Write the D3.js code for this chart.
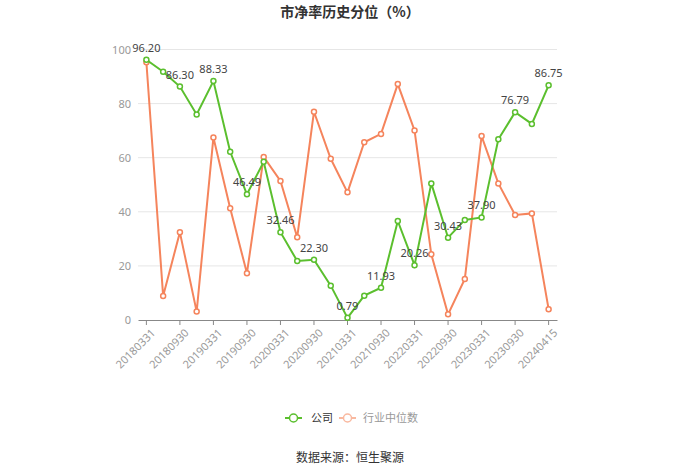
<!DOCTYPE html>
<html><head><meta charset="utf-8">
<script src="https://cdn.jsdelivr.net/npm/d3@7/dist/d3.min.js"></script>
<style>body{margin:0;background:#fff;font-family:"Noto Sans CJK SC","Noto Sans",sans-serif;}</style>
</head><body><svg id="c" width="700" height="474"></svg>
<script>
const categories = ["20180331","20180630","20180930","20181231","20190331","20190630","20190930","20191231","20200331","20200630","20200930","20201231","20210331","20210630","20210930","20211231","20220331","20220630","20220930","20221231","20230331","20230630","20230930","20231231","20240415"];
const companyValues = [96.20,91.8,86.30,76.0,88.33,62.2,46.49,58.5,32.46,21.8,22.30,12.7,0.79,9.0,11.93,36.6,20.26,50.5,30.43,37.0,37.90,66.8,76.79,72.5,86.75];
const industryValues = [95.3,8.9,32.4,3.1,67.5,41.3,17.3,60.3,51.4,30.6,77.0,59.6,47.2,65.7,68.8,87.2,70.1,24.3,2.1,15.2,68.0,50.5,38.8,39.4,4.0];
const yTicks = [0,20,40,60,80,100];
const seriesNames = ["公司","行业中位数"];
const title = "市净率历史分位（%）";
const source = "数据来源：恒生聚源";

const green = "#5bbf2e", orange = "#f5845c";
const svg = d3.select("#c");
const pLeft = 138, pRight = 557, pTop = 49.5, pBottom = 320;
const x = d3.scaleBand().domain(categories).range([pLeft, pRight]);
const xc = d => x(d) + x.bandwidth()/2;
const y = d3.scaleLinear().domain([0,100]).range([pBottom, pTop]);

svg.append("text").attr("x",350).attr("y",17).attr("text-anchor","middle")
  .attr("font-size",14).attr("font-weight","bold").attr("fill","#333").text(title);

// grid
svg.append("g").selectAll("line").data(yTicks.filter(t=>t>0)).join("line")
  .attr("x1",pLeft).attr("x2",pRight).attr("y1",d=>y(d)).attr("y2",d=>y(d))
  .attr("stroke","#e6e6e6").attr("stroke-width",1);

// y axis labels
svg.append("g").selectAll("text").data(yTicks).join("text")
  .attr("x",131).attr("y",d=>y(d)+4).attr("text-anchor","end")
  .attr("font-size",11).attr("fill","#999").attr("font-family","Noto Sans, sans-serif").text(d=>d);

// x axis
const xAxis = d3.axisBottom(x).tickValues(categories.filter((d,i)=>i%2===0)).tickSize(5).tickSizeOuter(0);
const gx = svg.append("g").attr("transform",`translate(0,${pBottom})`).call(xAxis);
gx.select(".domain").attr("stroke","#888");
gx.selectAll(".tick line").attr("stroke","#888");
gx.selectAll(".tick text").attr("fill","#999").attr("font-size",11).attr("font-family","Noto Sans, sans-serif")
  .attr("text-anchor","end").attr("dy",0).attr("transform","translate(4,8) rotate(-45)");

function drawSeries(vals, color){
  const line = d3.line().x((d,i)=>xc(categories[i])).y(d=>y(d));
  svg.append("path").datum(vals).attr("d",line).attr("fill","none").attr("stroke",color).attr("stroke-width",2);
  svg.append("g").selectAll("circle").data(vals).join("circle")
    .attr("cx",(d,i)=>xc(categories[i])).attr("cy",d=>y(d)).attr("r",2.5)
    .attr("fill","#fff").attr("stroke",color).attr("stroke-width",1.5);
}
drawSeries(industryValues, orange);
drawSeries(companyValues, green);

// labels on company series, every other point
svg.append("g").selectAll("text").data(companyValues.map((v,i)=>({v,i})).filter(d=>d.i%2===0)).join("text")
  .attr("x",d=>xc(categories[d.i])).attr("y",d=>y(d.v)-8).attr("text-anchor","middle")
  .attr("font-size",11).attr("fill","#444").attr("font-family","Noto Sans, sans-serif")
  .text(d=>d.v.toFixed(2));

// legend
const lg = svg.append("g");
function legendItem(x0, tx, color, textColor, name){
  lg.append("line").attr("x1",x0).attr("x2",x0+17).attr("y1",418).attr("y2",418).attr("stroke",color).attr("stroke-width",2);
  lg.append("circle").attr("cx",x0+8.5).attr("cy",418).attr("r",4).attr("fill","#fff").attr("stroke",color).attr("stroke-width",1.5);
  lg.append("text").attr("x",tx).attr("y",422).attr("font-size",11).attr("fill",textColor).text(name);
}
legendItem(285, 311, green, "#333", seriesNames[0]);
legendItem(339, 363, "#f9b9a0", "#999", seriesNames[1]);

svg.append("text").attr("x",350).attr("y",462).attr("text-anchor","middle")
  .attr("font-size",12).attr("fill","#333").text(source);
</script></body></html>
